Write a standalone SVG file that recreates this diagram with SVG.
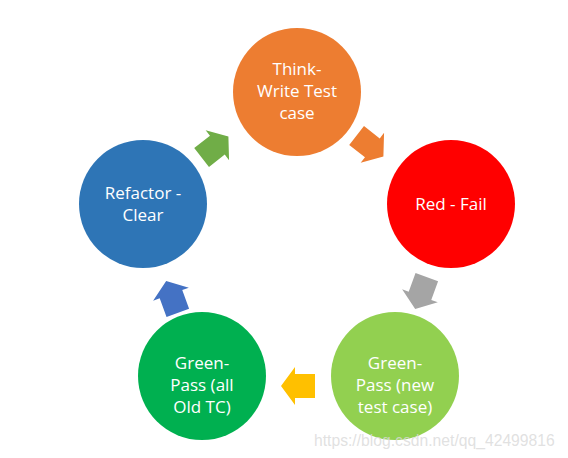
<svg xmlns="http://www.w3.org/2000/svg" width="568" height="458" viewBox="0 0 568 458">
<defs>
<style>
.lbl{font-family:"Open Sans","Liberation Sans",sans-serif;font-size:17px;fill:#fff;text-anchor:middle}
.wm{font-family:"Liberation Sans",Arial,sans-serif;font-size:15.7px;fill:#d9d9d9;fill-opacity:0.8}
</style>
<polygon id="arr" points="-17,-12 3,-12 3,-19 17,0 3,19 3,12 -17,12"/>
</defs>
<rect width="568" height="458" fill="#fff"/>
<g id="connectors">
<use href="#arr" fill="#70AD47" transform="translate(215,147) rotate(-38)"/>
<use href="#arr" fill="#ED7D31" transform="translate(370,146) rotate(38)"/>
<use href="#arr" fill="#A5A5A5" transform="translate(421,293) rotate(110)"/>
<use href="#arr" fill="#FFC000" transform="translate(298,386) rotate(180)"/>
<use href="#arr" fill="#4472C4" transform="translate(172,297) rotate(-110)"/>
</g>
<g id="think">
<circle cx="297" cy="92" r="64" fill="#ED7D31"/>
<text class="lbl" x="297" y="75">Think-</text>
<text class="lbl" x="297" y="97">Write Test</text>
<text class="lbl" x="297" y="119">case</text>
</g>
<g id="red">
<circle cx="451" cy="204" r="64" fill="#FF0000"/>
<text class="lbl" x="451" y="210">Red - Fail</text>
</g>
<g id="greennew">
<circle cx="395" cy="376" r="64" fill="#92D050"/>
<text class="lbl" x="395" y="369">Green-</text>
<text class="lbl" x="395" y="391">Pass (new</text>
<text class="lbl" x="395" y="413">test case)</text>
</g>
<g id="greenold">
<circle cx="202" cy="376" r="64" fill="#00B050"/>
<text class="lbl" x="202" y="369">Green-</text>
<text class="lbl" x="202" y="391">Pass (all</text>
<text class="lbl" x="202" y="413">Old TC)</text>
</g>
<g id="refactor">
<circle cx="143" cy="204" r="64" fill="#2E75B6"/>
<text class="lbl" x="143" y="199">Refactor -</text>
<text class="lbl" x="143" y="221">Clear</text>
</g>
<text class="wm" x="314" y="446">https://blog.csdn.net/qq_42499816</text>
</svg>
